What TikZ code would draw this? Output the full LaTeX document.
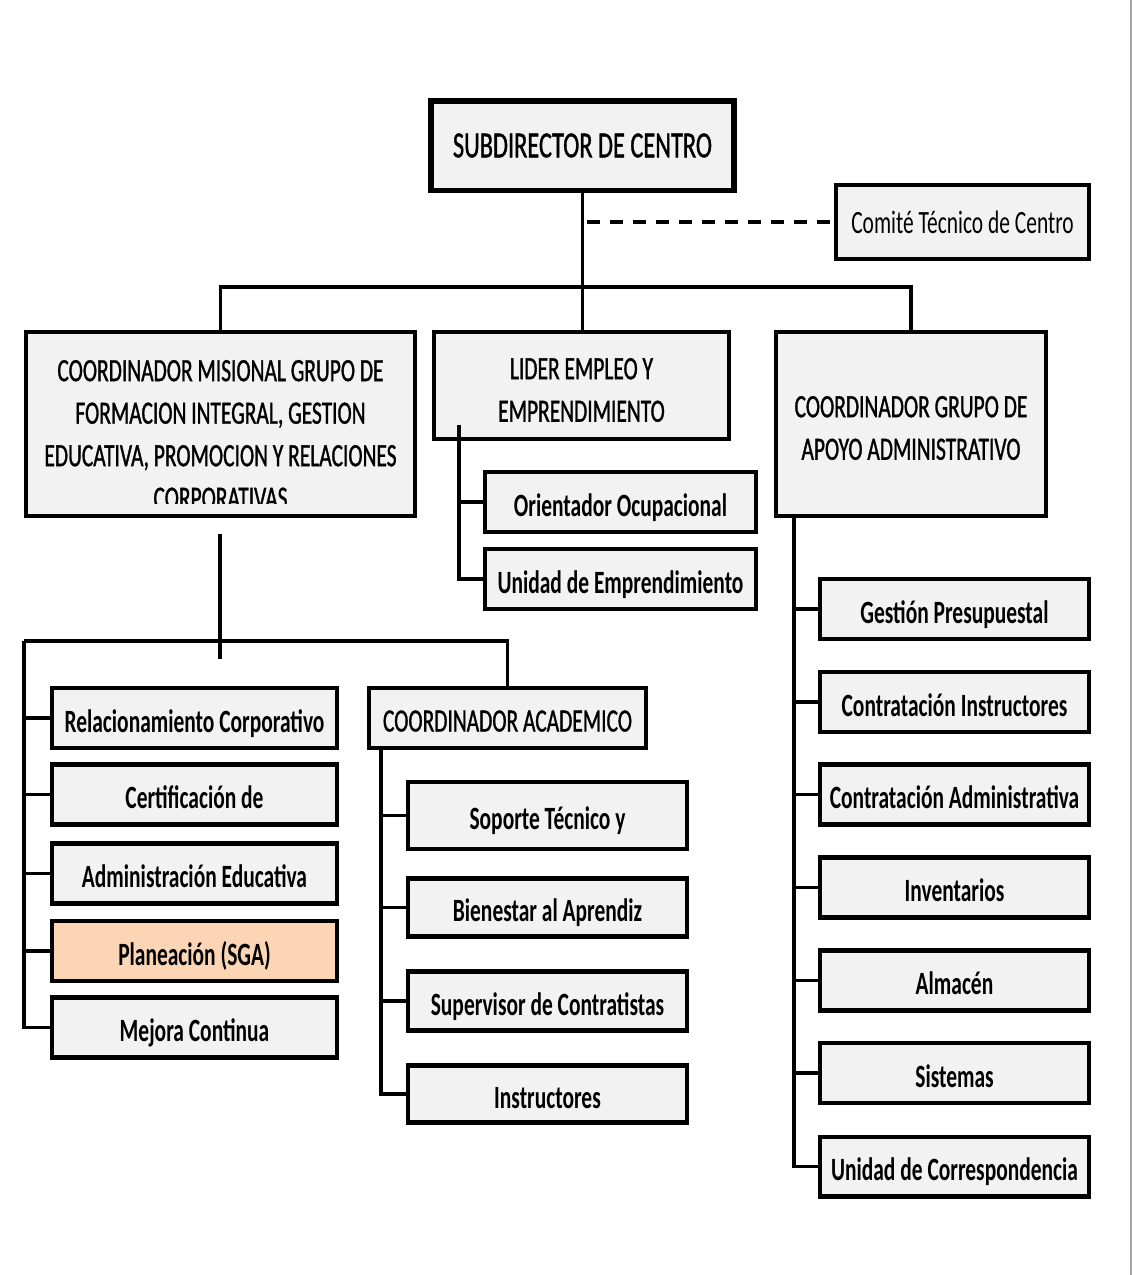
\documentclass[tikz,border=0pt]{standalone}
\usepackage{fontspec}
\usepackage{xcolor}
\usepackage{tikz}
\usetikzlibrary{calc}
\newfontfamily\orgfont[FakeStretch=0.66]{Carlito}
\newfontfamily\headfont[FakeStretch=0.66, FakeBold=1]{Carlito}
\definecolor{boxgray}{RGB}{242,242,242}
\definecolor{peach}{RGB}{252,213,181}

\begin{document}
\begin{tikzpicture}[x = 0.02cm, y = -0.02cm,
		unit/.style = {draw, fill = boxgray, line width = 2.3pt, inner sep = 0pt, align = center,
			font = \headfont\fontsize{18.5}{24.2}\selectfont},
		leaf/.style = {unit, minimum height = 1.2cm, text height = 0.68cm, text depth = 0.12cm,
			font = \orgfont\bfseries\fontsize{18.5}{24.2}\selectfont},
		link/.style = {line width = 1.8pt}]

			\useasboundingbox (0,0) rectangle (1133,1275);
			\draw [gray!70, line width = 1.2pt] (1131,0) -- (1131,1275);

			\node [unit, line width = 3.4pt, minimum width = 6.08cm, minimum height = 1.8cm,
				font = \headfont\fontsize{21}{24}\selectfont] (sub) at (582.5,145.5) {SUBDIRECTOR DE CENTRO};
			\node [unit, minimum width = 5.06cm, minimum height = 1.48cm, font = \orgfont\fontsize{18.5}{24.2}\selectfont]
				(comite) at (962.5,222) {Comité Técnico de Centro};

			\node [unit, minimum width = 7.78cm, minimum height = 3.68cm] (misional) at (220.5,424) {};
			\begin{scope}
				\clip (27,333) rectangle (414,503);
				\node [inner sep = 0pt, align = center, font = \headfont\fontsize{18.5}{24.2}\selectfont] (misionalText) at (220.5,434.5)
					{COORDINADOR MISIONAL GRUPO DE\\FORMACION INTEGRAL, GESTION\\EDUCATIVA, PROMOCION Y RELACIONES\\CORPORATIVAS};
			\end{scope}
			\node [unit, minimum width = 5.9cm, minimum height = 2.14cm, text height = 1.45cm, text depth = 0cm]
				(lider) at (581.5,385.5) {LIDER EMPLEO Y\\EMPRENDIMIENTO};
			\node [unit, minimum width = 5.4cm, minimum height = 3.68cm, text height = 1.43cm, text depth = 0cm]
				(apoyo) at (911,424) {COORDINADOR GRUPO DE\\APOYO ADMINISTRATIVO};

			\begin{scope}[every node/.style = {leaf, minimum width = 5.42cm}]
				\node (orient) at (620.5,502) {Orientador Ocupacional};
				\node (unidadE) at (620.5,579) {Unidad de Emprendimiento};
			\end{scope}

			\begin{scope}[every node/.style = {leaf, minimum width = 5.7cm}]
				\node (relac) at (194.5,718) {Relacionamiento Corporativo};
				\node (certif) at (194.5,794.5) {Certificación de};
				\node (admin) at (194.5,873.5) {Administración Educativa};
				\node [fill = peach] (planea) at (194.5,951) {Planeación (SGA)};
				\node (mejora) at (194.5,1027.5) {Mejora Continua};
			\end{scope}

			\node [unit, minimum width = 5.54cm, minimum height = 1.2cm, text height = 0.66cm, text depth = 0.12cm]
				(acad) at (507.5,718) {COORDINADOR ACADEMICO};
			\begin{scope}[every node/.style = {leaf, minimum width = 5.58cm}]
				\node [minimum height = 1.34cm] (soporte) at (547.5,815.5) {Soporte Técnico y};
				\node [minimum height = 1.16cm] (bienestar) at (547.5,907.5) {Bienestar al Aprendiz};
				\node [minimum height = 1.18cm] (supervisor) at (547.5,1001) {Supervisor de Contratistas};
				\node [minimum height = 1.14cm] (instr) at (547.5,1094) {Instructores};
			\end{scope}

			\begin{scope}[every node/.style = {leaf, minimum width = 5.38cm}]
				\node (gestion) at (954.5,609) {Gestión Presupuestal};
				\node (contInstr) at (954.5,702) {Contratación  Instructores};
				\node (contAdmin) at (954.5,794.5) {Contratación Administrativa};
				\node (invent) at (954.5,887.5) {Inventarios};
				\node (almacen) at (954.5,980.5) {Almacén};
				\node (sistemas) at (954.5,1073) {Sistemas};
				\node (unidadC) at (954.5,1166.5) {Unidad de Correspondencia};
			\end{scope}

			\coordinate (bus) at (582,287);
			\coordinate (dashStart) at (587,222);
			\coordinate (liderT) at (459,425);
			\coordinate (misTop) at (220,534);
			\coordinate (misBot) at (220,659);
			\coordinate (busM) at (24,641);
			\coordinate (acadT) at (381,750);
			\coordinate (apoyoT) at (794,518);

			\begin{scope}[link]
				\draw (sub.south) -- (sub.south |- lider.north);
				\draw (misional.north) |- (bus) -| (apoyo.north);
				\draw [line width = 2.3pt, dash pattern = on 0.26cm off 0.2cm] (dashStart) -- (comite.west);
				\foreach \n in {orient, unidadE}
					\draw (liderT) |- (\n.west);
				\draw (misTop) -- (misBot);
				\draw (acad.north) |- (busM);
				\foreach \n in {relac, certif, admin, planea, mejora}
					\draw (busM) |- (\n.west);
				\foreach \n in {soporte, bienestar, supervisor, instr}
					\draw (acadT) |- (\n.west);
				\foreach \n in {gestion, contInstr, contAdmin, invent, almacen, sistemas, unidadC}
					\draw (apoyoT) |- (\n.west);
			\end{scope}
		\end{tikzpicture}
\end{document}
